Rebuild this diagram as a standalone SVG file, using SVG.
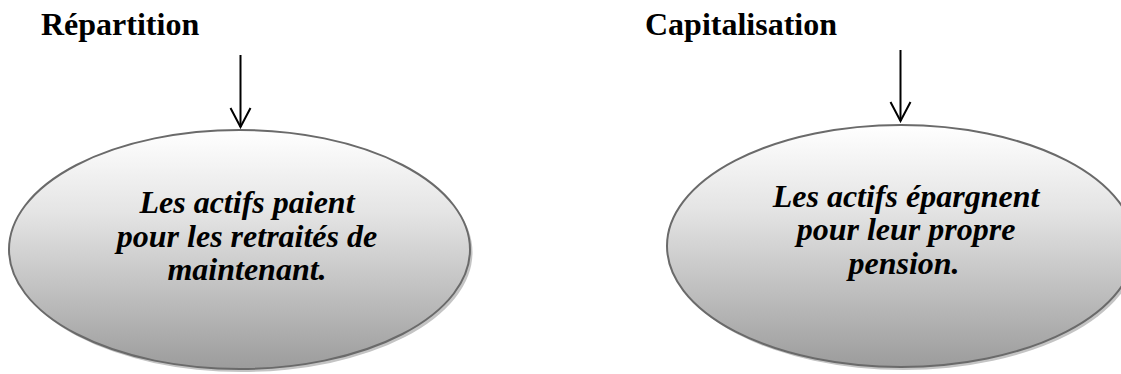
<svg xmlns="http://www.w3.org/2000/svg" width="1121" height="374" viewBox="0 0 1121 374">
  <style>
    .title { font-family: "Liberation Serif", "Times New Roman", serif; font-weight: bold; font-size: 32px; fill: #000; }
    .label { font-family: "Liberation Serif", "Times New Roman", serif; font-weight: bold; font-style: italic; font-size: 32px; fill: #000; text-anchor: middle; }
    .oval { fill: url(#grad); stroke: #6a6a6a; stroke-width: 2; }
    .shadow { fill: #c4c4c4; }
    .conn { stroke: #000; stroke-width: 2; fill: none; }
  </style>
  <defs>
    <linearGradient id="grad" x1="0" y1="0" x2="0" y2="1">
      <stop offset="0" stop-color="#ffffff"/>
      <stop offset="0.35" stop-color="#e4e4e4"/>
      <stop offset="1" stop-color="#9c9c9c"/>
    </linearGradient>
    <marker id="arrow" viewBox="0 0 22 24" refX="20" refY="12" markerWidth="22" markerHeight="24" markerUnits="userSpaceOnUse" orient="auto">
      <path d="M1,2 L20,12 L1,22" fill="none" stroke="#000" stroke-width="2"/>
    </marker>
  </defs>
  <rect x="0" y="0" width="1121" height="374" fill="#ffffff"/>

  <g id="titles">
    <text id="title-repartition" class="title" x="41" y="35">Répartition</text>
    <text id="title-capitalisation" class="title" x="645" y="35">Capitalisation</text>
  </g>

  <g id="node-repartition">
    <ellipse class="shadow" cx="242" cy="252.5" rx="230.5" ry="119.5"/>
    <ellipse class="oval" cx="239.5" cy="249.5" rx="230.5" ry="119.5"/>
    <text class="label" x="247" y="213">Les actifs paient</text>
    <text class="label" x="247" y="246.5">pour les retraités de</text>
    <text class="label" x="247" y="280">maintenant.</text>
  </g>

  <g id="node-capitalisation">
    <ellipse class="shadow" cx="903.5" cy="249" rx="234" ry="121"/>
    <ellipse class="oval" cx="901" cy="246" rx="234" ry="121"/>
    <text class="label" x="906" y="207">Les actifs épargnent</text>
    <text class="label" x="906" y="240">pour leur propre</text>
    <text class="label" x="904" y="273.5">pension.</text>
  </g>

  <g id="connectors">
    <line class="conn" x1="240.5" y1="55" x2="240.5" y2="127" marker-end="url(#arrow)"/>
    <line class="conn" x1="900.5" y1="50" x2="900.5" y2="121" marker-end="url(#arrow)"/>
  </g>
</svg>
